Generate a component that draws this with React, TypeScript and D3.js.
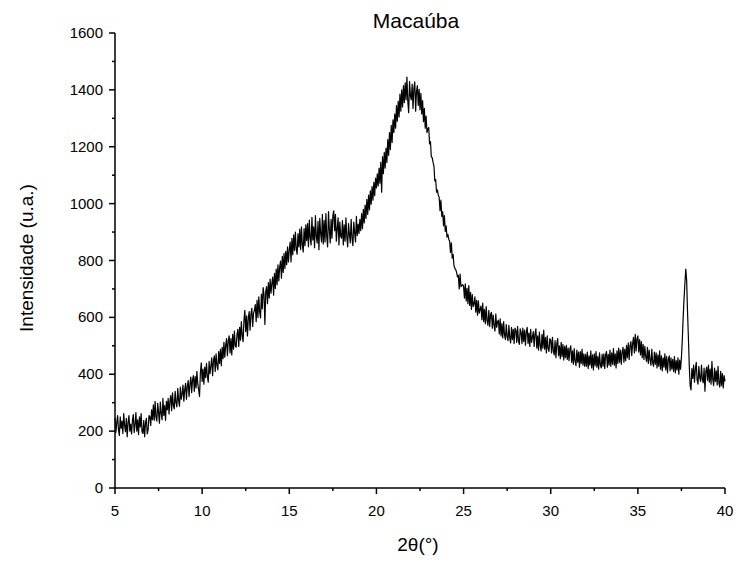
import React from "react";
import * as d3 from "d3";

// 2θ sampling: starts at 5°, one value every 0.05°
const thetaStart = 5;
const thetaStep = 0.05;

// Intensity values, one row per degree (20 values each)
const intensity: number[] = [
  // 5
  245, 195, 228, 255, 205, 185, 250, 210, 235, 192, 262, 220, 198, 245, 180, 230, 255, 200, 225, 190,
  // 6
  238, 258, 195, 222, 265, 200, 240, 188, 250, 215, 262, 198, 192, 238, 180, 228, 245, 190, 205, 255,
  // 7
  250, 220, 275, 240, 292, 238, 305, 250, 235, 298, 265, 228, 302, 262, 240, 315, 255, 290, 238, 305,
  // 8
  275, 315, 260, 305, 325, 272, 335, 290, 278, 340, 300, 285, 350, 308, 288, 355, 312, 330, 362, 305,
  // 9
  345, 368, 312, 358, 378, 322, 365, 390, 335, 382, 395, 340, 392, 352, 410, 365, 345, 322, 405, 440,
  // 10
  375, 418, 365, 425, 388, 438, 392, 372, 445, 402, 428, 458, 395, 448, 465, 410, 472, 430, 415, 480,
  // 11
  438, 488, 430, 495, 455, 512, 460, 502, 525, 465, 518, 535, 475, 525, 468, 540, 488, 552, 500, 495,
  // 12
  540, 558, 498, 565, 520, 585, 535, 515, 590, 625, 550, 605, 535, 598, 620, 555, 612, 632, 568, 615,
  // 13
  625, 645, 585, 660, 600, 672, 620, 598, 682, 630, 705, 680, 575, 692, 708, 648, 722, 668, 735, 685,
  // 14
  720, 742, 678, 755, 702, 770, 715, 785, 728, 778, 798, 738, 815, 758, 825, 772, 832, 785, 848, 795,
  // 15
  838, 865, 795, 878, 820, 890, 835, 900, 840, 822, 895, 848, 910, 838, 918, 855, 830, 912, 852, 925,
  // 16
  870, 930, 848, 942, 880, 855, 952, 872, 918, 845, 958, 885, 862, 938, 838, 948, 895, 865, 962, 858,
  // 17
  940, 865, 965, 885, 848, 972, 910, 862, 945, 878, 958, 975, 905, 962, 868, 912, 950, 855, 935, 885,
  // 18
  878, 940, 855, 925, 868, 950, 885, 848, 930, 892, 862, 945, 878, 852, 935, 898, 865, 955, 888, 928,
  // 19
  895, 945, 905, 965, 912, 980, 932, 995, 948, 1015, 962, 1030, 978, 1045, 998, 1060, 1012, 1075, 1028, 1090,
  // 20
  1055, 1105, 1062, 1125, 1072, 1145, 1040, 1165, 1105, 1180, 1125, 1195, 1145, 1225, 1170, 1250, 1190, 1275, 1215, 1295,
  // 21
  1250, 1315, 1265, 1345, 1290, 1360, 1305, 1385, 1325, 1400, 1340, 1415, 1355, 1425, 1365, 1445, 1360, 1320, 1430, 1380,
  // 22
  1365, 1420, 1335, 1405, 1428, 1325, 1395, 1415, 1345, 1402, 1330, 1388, 1315, 1362, 1288, 1335, 1265, 1308, 1250, 1262,
  // 23
  1268, 1210, 1218, 1165, 1162, 1145, 1132, 1080, 1085, 1040, 1048, 1030, 1022, 975, 1012, 955, 972, 922, 958, 902,
  // 24
  922, 882, 892, 875, 868, 828, 862, 808, 822, 782, 772, 768, 758, 742, 748, 700, 752, 708, 712, 715,
  // 25
  710, 668, 718, 658, 702, 648, 712, 642, 688, 628, 680, 638, 648, 672, 618, 660, 608, 658, 615, 628,
  // 26
  640, 592, 650, 585, 628, 578, 638, 588, 572, 625, 568, 610, 618, 562, 608, 572, 552, 612, 565, 585,
  // 27
  590, 542, 595, 535, 578, 528, 585, 538, 522, 575, 532, 518, 572, 528, 510, 565, 522, 558, 508, 562,
  // 28
  555, 512, 568, 518, 505, 560, 548, 508, 562, 515, 555, 502, 550, 565, 508, 545, 498, 558, 512, 530,
  // 29
  550, 498, 542, 560, 492, 535, 485, 548, 500, 482, 540, 492, 555, 488, 530, 475, 535, 490, 480, 525,
  // 30
  520, 475, 530, 482, 468, 518, 458, 508, 525, 465, 500, 455, 512, 462, 505, 450, 498, 458, 502, 452,
  // 31
  492, 448, 488, 500, 442, 482, 435, 490, 445, 430, 485, 442, 478, 425, 480, 438, 488, 432, 472, 428,
  // 32
  470, 428, 478, 420, 465, 432, 482, 422, 468, 415, 472, 430, 480, 425, 462, 418, 475, 432, 422, 470,
  // 33
  428, 472, 420, 468, 480, 425, 470, 432, 485, 428, 475, 435, 490, 432, 472, 422, 482, 438, 492, 442,
  // 34
  485, 435, 478, 495, 442, 488, 448, 502, 458, 510, 452, 500, 515, 465, 508, 530, 475, 540, 482, 525,
  // 35
  535, 478, 522, 468, 515, 458, 505, 452, 498, 462, 445, 495, 438, 485, 450, 432, 488, 440, 428, 478,
  // 36
  435, 475, 422, 468, 428, 482, 418, 465, 412, 458, 425, 472, 415, 462, 405, 452, 465, 412, 458, 418,
  // 37
  452, 410, 462, 405, 448, 415, 458, 400, 450, 418, 460, 520, 600, 665, 720, 770, 730, 620, 530, 430,
  // 38
  360, 345, 420, 385, 432, 372, 418, 442, 380, 365, 428, 388, 375, 432, 382, 370, 422, 340, 410, 425,
  // 39
  378, 432, 372, 418, 365, 445, 382, 360, 422, 375, 412, 362, 428, 370, 355, 410, 360, 402, 352, 395,
  // 40
  375,
];

const xMajorTicks = [5, 10, 15, 20, 25, 30, 35, 40];
const xMinorTicks = [7.5, 12.5, 17.5, 22.5, 27.5, 32.5, 37.5];
const yMajorTicks = [0, 200, 400, 600, 800, 1000, 1200, 1400, 1600];
const yMinorTicks = [100, 300, 500, 700, 900, 1100, 1300, 1500];

const titleText = "Macaúba";
const xLabel = "2θ(°)";
const yLabel = "Intensidade (u.a.)";

export default function App() {
  const W = 739;
  const H = 561;
  const left = 115;
  const right = 725;
  const top = 33;
  const bottom = 488;

  const x = d3.scaleLinear().domain([5, 40]).range([left, right]);
  const y = d3.scaleLinear().domain([0, 1600]).range([bottom, top]);

  const pts: [number, number][] = intensity.map((v, i) => [thetaStart + i * thetaStep, v]);
  const line = d3
    .line<[number, number]>()
    .x((d) => x(d[0]))
    .y((d) => y(d[1]));

  const font = "Arial, 'Liberation Sans', Helvetica, sans-serif";

  return (
    <svg
      width={W}
      height={H}
      style={{ position: "absolute", left: 0, top: 0, background: "#fff" }}
      fontFamily={font}
    >
      <rect x={0} y={0} width={W} height={H} fill="#fff" />
      <text x={416} y={28} fontSize={21} textAnchor="middle" fill="#000">
        {titleText}
      </text>

      <path d={line(pts) || ""} fill="none" stroke="#000" strokeWidth={1.2} strokeLinejoin="round" />

      {/* axes */}
      <line x1={left} x2={left} y1={top} y2={bottom} stroke="#000" strokeWidth={1.5} />
      <line x1={left} x2={right} y1={bottom} y2={bottom} stroke="#000" strokeWidth={1.5} />

      {yMajorTicks.map((t) => (
        <g key={"ym" + t}>
          <line x1={left - 6} x2={left} y1={y(t)} y2={y(t)} stroke="#000" strokeWidth={1.5} />
          <text x={left - 12} y={y(t) + 5} fontSize={15} textAnchor="end" fill="#000">
            {t}
          </text>
        </g>
      ))}
      {yMinorTicks.map((t) => (
        <line key={"yn" + t} x1={left - 3} x2={left} y1={y(t)} y2={y(t)} stroke="#000" strokeWidth={1.5} />
      ))}
      {xMajorTicks.map((t) => (
        <g key={"xm" + t}>
          <line x1={x(t)} x2={x(t)} y1={bottom} y2={bottom + 6} stroke="#000" strokeWidth={1.5} />
          <text x={x(t)} y={bottom + 28} fontSize={15} textAnchor="middle" fill="#000">
            {t}
          </text>
        </g>
      ))}
      {xMinorTicks.map((t) => (
        <line key={"xn" + t} x1={x(t)} x2={x(t)} y1={bottom} y2={bottom + 3} stroke="#000" strokeWidth={1.5} />
      ))}

      <text x={418} y={551} fontSize={19} textAnchor="middle" fill="#000">
        {xLabel}
      </text>
      <text
        transform={`translate(33, 258) rotate(-90)`}
        fontSize={19}
        textAnchor="middle"
        fill="#000"
      >
        {yLabel}
      </text>
    </svg>
  );
}
